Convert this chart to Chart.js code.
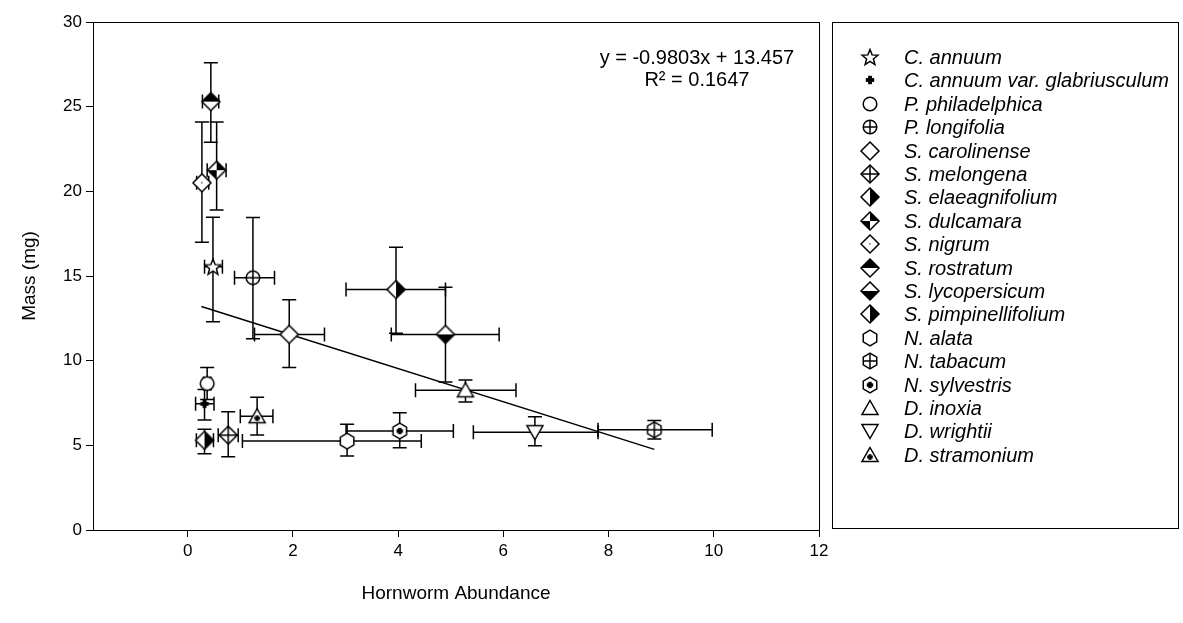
<!DOCTYPE html>
<html>
<head>
<meta charset="utf-8">
<script src="https://cdn.jsdelivr.net/npm/chart.js@4/dist/chart.umd.min.js"></script>
<style>
  html, body { margin: 0; padding: 0; background: #fff; }
  #wrap { width: 1183px; height: 623px; }
</style>
</head>
<body>
<div id="wrap"><canvas id="chart" width="1183" height="623"></canvas></div>
<script>
// species and values
const species = [
  "C. annuum", "C. annuum var. glabriusculum", "P. philadelphica", "P. longifolia",
  "S. carolinense", "S. melongena", "S. elaeagnifolium", "S. dulcamara", "S. nigrum",
  "S. rostratum", "S. lycopersicum", "S. pimpinellifolium", "N. alata", "N. tabacum",
  "N. sylvestris", "D. inoxia", "D. wrightii", "D. stramonium"
];
const markers = [
  "star", "plus", "circle", "circlePlus", "diamond", "diamondCross", "diamondRight",
  "diamondQuad", "diamondDot", "diamondTop", "diamondBottom", "diamondRight",
  "hex", "hexPlus", "hexDot", "triUp", "triDown", "triUpDot"
];
const abundance = [0.48, 0.32, 0.37, 1.24, 1.93, 0.77, 3.96, 0.55, 0.27, 0.44, 4.90, 0.32, 3.03, 8.87, 4.03, 5.28, 6.60, 1.32];
const mass      = [15.55, 7.45, 8.65, 14.9, 11.55, 5.6, 14.2, 21.25, 20.5, 25.3, 11.55, 5.3, 5.25, 5.92, 5.85, 8.25, 5.78, 6.72];
const xLow  = [0.32, 0.15, 0.30, 0.89, 1.27, 0.58, 3.01, 0.37, 0.17, 0.28, 3.87, 0.165, 1.04, 7.80, 3.01, 4.33, 5.43, 1.00];
const xHigh = [0.66, 0.50, 0.44, 1.65, 2.60, 0.96, 4.90, 0.73, 0.40, 0.59, 5.92, 0.49, 4.44, 9.97, 5.05, 6.24, 7.80, 1.62];
const yLow  = [12.3, 6.5, 7.7, 11.3, 9.6, 4.33, 11.62, 18.9, 17.0, 22.9, 8.74, 4.5, 4.37, 5.38, 4.86, 7.56, 4.98, 5.61];
const yHigh = [18.47, 8.3, 9.6, 18.45, 13.6, 6.99, 16.7, 24.1, 24.1, 27.6, 14.33, 5.95, 6.24, 6.46, 6.93, 8.86, 6.69, 7.84];

// regression line end points as seen on the chart
const trendX = [0.26, 8.87];
const trendY = [13.20, 4.76];
const equation = ["y = -0.9803x + 13.457", "R\u00b2 = 0.1647"];

const xTicks = [0, 2, 4, 6, 8, 10, 12];

const FONT = "'Liberation Sans', Arial, sans-serif";

// build marker images
function makeMarker(kind) {
  const c = document.createElement('canvas');
  c.width = 24; c.height = 24;
  const g = c.getContext('2d');
  g.translate(12, 12);
  g.lineWidth = 1.5;
  g.lineJoin = 'miter';
  g.strokeStyle = '#000';
  g.fillStyle = '#fff';
  const poly = (pts) => { g.beginPath(); pts.forEach((p, i) => i ? g.lineTo(p[0], p[1]) : g.moveTo(p[0], p[1])); g.closePath(); };
  const r = 9;
  const dia = [[0, -r], [r, 0], [0, r], [-r, 0]];
  const hexR = 7.8;
  const hex = [];
  for (let k = 0; k < 6; k++) { const a = -Math.PI / 2 + k * Math.PI / 3; hex.push([hexR * Math.cos(a), hexR * Math.sin(a)]); }
  const triU = [[0, -7.5], [8, 6.5], [-8, 6.5]];
  const triD = [[0, 7.5], [8, -6.5], [-8, -6.5]];
  const blackPlus = (s, w) => {
    g.fillStyle = '#000';
    g.fillRect(-s, -w, 2 * s, 2 * w);
    g.fillRect(-w, -s, 2 * w, 2 * s);
  };
  if (kind === 'star') {
    const pts = [];
    for (let k = 0; k < 10; k++) {
      const a = -Math.PI / 2 + k * Math.PI / 5;
      const rr = k % 2 ? 3.6 : 8.3;
      pts.push([rr * Math.cos(a), rr * Math.sin(a) + 0.8]);
    }
    poly(pts); g.fill(); g.stroke();
  } else if (kind === 'plus') {
    blackPlus(4.2, 1.9);
  } else if (kind === 'circle' || kind === 'circlePlus') {
    const cr = 6.8;
    g.beginPath(); g.arc(0, 0, cr, 0, Math.PI * 2); g.fill(); g.stroke();
    if (kind === 'circlePlus') {
      g.beginPath(); g.moveTo(-cr, 0); g.lineTo(cr, 0); g.moveTo(0, -cr); g.lineTo(0, cr); g.stroke();
    }
  } else if (kind.startsWith('diamond')) {
    poly(dia); g.fill();
    g.fillStyle = '#000';
    if (kind === 'diamondRight') { poly([[0, -r], [r, 0], [0, r]]); g.fill(); }
    if (kind === 'diamondTop') { poly([[-r, 0], [0, -r], [r, 0]]); g.fill(); }
    if (kind === 'diamondBottom') { poly([[-r, 0], [0, r], [r, 0]]); g.fill(); }
    if (kind === 'diamondQuad') {
      poly([[0, -r], [r, 0], [0, 0]]); g.fill();
      poly([[0, r], [-r, 0], [0, 0]]); g.fill();
    }
    if (kind === 'diamondDot') { g.fillStyle = '#777'; g.fillRect(-1, -1, 1.6, 1.6); }
    poly(dia); g.stroke();
    if (kind === 'diamondCross') {
      g.beginPath(); g.moveTo(-r, 0); g.lineTo(r, 0); g.moveTo(0, -r); g.lineTo(0, r); g.stroke();
    }
  } else if (kind.startsWith('hex')) {
    poly(hex); g.fill(); g.stroke();
    if (kind === 'hexPlus') {
      g.beginPath(); g.moveTo(-hexR * 0.87, 0); g.lineTo(hexR * 0.87, 0); g.moveTo(0, -hexR); g.lineTo(0, hexR); g.stroke();
    }
    if (kind === 'hexDot') blackPlus(3.2, 1.7);
  } else if (kind.startsWith('triUp')) {
    poly(triU); g.fill(); g.stroke();
    if (kind === 'triUpDot') { g.translate(0, 2); blackPlus(2.8, 1.5); }
  } else if (kind === 'triDown') {
    poly(triD); g.fill(); g.stroke();
  }
  return c;
}
const markerImgs = markers.map(makeMarker);

// error bars, drawn under the markers
const errorBars = {
  id: 'errorBars',
  beforeDatasetsDraw(chart) {
    const { ctx, scales: { x, y } } = chart;
    const cap = 7;
    ctx.save();
    ctx.strokeStyle = '#000';
    ctx.lineWidth = 1.5;
    species.forEach((s, i) => {
      const px = x.getPixelForValue(abundance[i]);
      const py = y.getPixelForValue(mass[i]);
      const x1 = x.getPixelForValue(xLow[i]), x2 = x.getPixelForValue(xHigh[i]);
      const y1 = y.getPixelForValue(yLow[i]), y2 = y.getPixelForValue(yHigh[i]);
      ctx.beginPath();
      ctx.moveTo(x1, py); ctx.lineTo(x2, py);
      ctx.moveTo(x1, py - cap); ctx.lineTo(x1, py + cap);
      ctx.moveTo(x2, py - cap); ctx.lineTo(x2, py + cap);
      ctx.moveTo(px, y1); ctx.lineTo(px, y2);
      ctx.moveTo(px - cap, y1); ctx.lineTo(px + cap, y1);
      ctx.moveTo(px - cap, y2); ctx.lineTo(px + cap, y2);
      ctx.stroke();
    });
    ctx.restore();
  }
};

// frame, equation and boxed legend
const extras = {
  id: 'extras',
  afterDraw(chart) {
    const { ctx, chartArea: a, scales: { x, y } } = chart;
    ctx.save();
    ctx.strokeStyle = '#000';
    ctx.lineWidth = 1;
    ctx.strokeRect(a.left + 0.5, a.top + 0.5, a.right - a.left, a.bottom - a.top);

    ctx.fillStyle = '#000';
    ctx.font = '20px ' + FONT;
    ctx.textAlign = 'center';
    ctx.textBaseline = 'middle';
    const ex = x.getPixelForValue(9.68);
    ctx.fillText(equation[0], ex, y.getPixelForValue(27.83));
    ctx.fillText(equation[1], ex, y.getPixelForValue(26.53));

    // legend
    const lx = 832, ly = 22, lw = 346, lh = 506;
    ctx.strokeRect(lx + 0.5, ly + 0.5, lw, lh);
    ctx.font = 'italic 20px ' + FONT;
    ctx.textAlign = 'left';
    species.forEach((s, i) => {
      const cy = Math.round(57 + i * 23.4);
      ctx.drawImage(markerImgs[i], 870 - 12, cy - 12);
      ctx.fillText(s, 904, cy + 1);
    });
    ctx.restore();
  }
};

const datasets = species.map((s, i) => ({
  type: 'scatter',
  label: s,
  data: [{ x: abundance[i], y: mass[i] }],
  pointStyle: markerImgs[i],
  pointRadius: 9
}));
datasets.push({
  type: 'line',
  label: 'trend',
  data: trendX.map((v, i) => ({ x: v, y: trendY[i] })),
  borderColor: '#000',
  borderWidth: 1.5,
  pointRadius: 0,
  order: 1
});

new Chart(document.getElementById('chart'), {
  type: 'scatter',
  data: { datasets },
  options: {
    responsive: false,
    animation: false,
    devicePixelRatio: 1,
    layout: { padding: { left: 0, top: 22, right: 364, bottom: 0 } },
    plugins: { legend: { display: false }, tooltip: { enabled: false } },
    scales: {
      x: {
        type: 'linear',
        min: -1.8,
        max: 12,
        afterBuildTicks: (scale) => { scale.ticks = xTicks.map(v => ({ value: v })); },
        afterFit: (scale) => { scale.height = 93; },
        grid: { drawOnChartArea: false, drawTicks: true, tickLength: 7, color: '#000' },
        border: { display: true, color: '#000' },
        ticks: { color: '#000', font: { family: FONT, size: 17 }, padding: 4 },
        title: { display: true, text: 'Hornworm Abundance', color: '#000', font: { family: FONT, size: 19 }, padding: { top: 0, bottom: 18 } }
      },
      y: {
        min: 0,
        max: 30,
        afterFit: (scale) => { scale.width = 93; },
        grid: { drawOnChartArea: false, drawTicks: true, tickLength: 7, color: '#000' },
        border: { display: true, color: '#000' },
        ticks: { stepSize: 5, color: '#000', font: { family: FONT, size: 17 }, padding: 4 },
        title: { display: true, text: 'Mass (mg)', color: '#000', font: { family: FONT, size: 19 }, padding: { top: 18, bottom: 0 } }
      }
    }
  },
  plugins: [errorBars, extras]
});
</script>
</body>
</html>
